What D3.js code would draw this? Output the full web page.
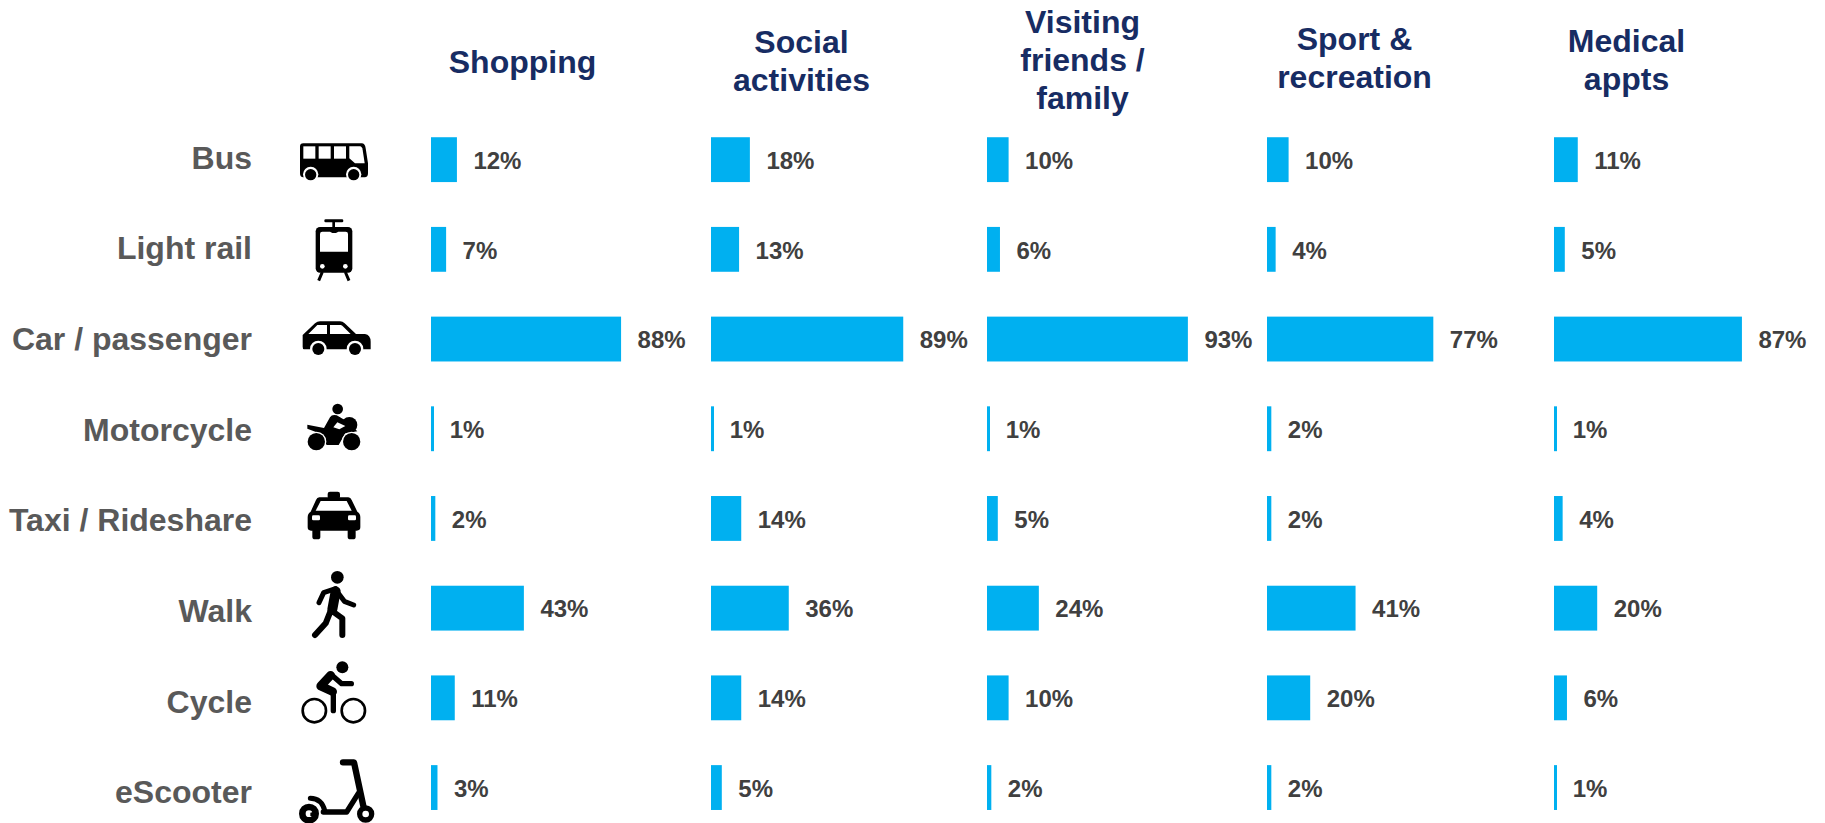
<!DOCTYPE html>
<html>
<head>
<meta charset="utf-8">
<script src="https://cdn.jsdelivr.net/npm/d3@7"></script>
<style>
  html, body { margin: 0; padding: 0; background: #fff; overflow: hidden; }
  text { font-family: "Liberation Sans", Arial, sans-serif; font-weight: bold; }
</style>
</head>
<body>
<div id="chart"></div>
<script>
var modes = ["Bus", "Light rail", "Car / passenger", "Motorcycle", "Taxi / Rideshare", "Walk", "Cycle", "eScooter"];
var purposes = ["Shopping", "Social activities", "Visiting friends / family", "Sport & recreation", "Medical appts"];

var shopping = [12, 7, 88, 1, 2, 43, 11, 3];
var social = [18, 13, 89, 1, 14, 36, 14, 5];
var visiting = [10, 6, 93, 1, 5, 24, 10, 2];
var sport = [10, 4, 77, 2, 2, 41, 20, 2];
var medical = [11, 5, 87, 1, 4, 20, 6, 1];
var seriesValues = [shopping, social, visiting, sport, medical];

var headerLines = [["Shopping"], ["Social", "activities"], ["Visiting", "friends /", "family"], ["Sport &", "recreation"], ["Medical", "appts"]];

var width = 1825, height = 823;
var barColor = "#00b0f0", headColor = "#172c63", rowColor = "#595959", valColor = "#404040";

var colStart = [431, 711, 987, 1267, 1554];
var headCenter = [522.5, 801.5, 1082.5, 1354.5, 1626.5];
var headFirstBase = [73, 53, 32.5, 50, 52];

var svg = d3.select("#chart").append("svg")
    .attr("width", width)
    .attr("height", height)
    .style("display", "block");

// bars sit on a 89.7px step, row labels drift a bit further apart
var y = d3.scaleBand().domain(modes).range([114.8, 832.4]).paddingInner(0.5).paddingOuter(0.25);
var labelY = d3.scalePoint().domain(modes).range([168.8, 803.4]);
var x = d3.scaleLinear().domain([0, 100]).range([0, 216]);

// row labels
svg.append("g").selectAll("text")
    .data(modes)
    .enter().append("text")
    .attr("x", 252)
    .attr("y", function(d) { return labelY(d); })
    .attr("text-anchor", "end")
    .attr("font-size", 32)
    .attr("fill", rowColor)
    .text(function(d) { return d; });

// headers
purposes.forEach(function(p, i) {
    var t = svg.append("text")
        .attr("class", "head")
        .attr("text-anchor", "middle")
        .attr("font-size", 32)
        .attr("fill", headColor);
    t.selectAll("tspan")
        .data(headerLines[i])
        .enter().append("tspan")
        .attr("x", headCenter[i])
        .attr("y", function(d, k) { return headFirstBase[i] + k * 38.4; })
        .text(function(d) { return d; });
});

// bars + values per column
seriesValues.forEach(function(values, c) {
    var col = svg.append("g").attr("transform", "translate(" + colStart[c] + ",0)");

    col.selectAll("rect")
        .data(values)
        .enter().append("rect")
        .attr("x", 0)
        .attr("y", function(d, i) { return y(modes[i]); })
        .attr("width", function(d) { return Math.max(x(d), 3); })
        .attr("height", y.bandwidth())
        .attr("fill", barColor);

    col.selectAll("text")
        .data(values)
        .enter().append("text")
        .attr("x", function(d) { return x(d) + 16.5; })
        .attr("y", function(d, i) { return y(modes[i]) + y.bandwidth() / 2 + 9.3; })
        .attr("font-size", 24)
        .attr("fill", valColor)
        .text(function(d) { return d + "%"; });
});

// pictograms, drawn in 3x crop coordinates
var icons = [
  { ox: 280, oy: 120, svg:
    '<path d="M70 70H245Q255 70 257 85L264 130V160Q264 172 254 172H70Q60 172 60 160V80Q60 70 70 70Z"/>' +
    '<g fill="#fff"><rect x="70" y="79" width="36" height="37"/><rect x="116" y="79" width="36" height="37"/><rect x="162" y="79" width="36" height="37"/>' +
    '<path d="M208 79H240Q246 79 248 90L254 130H225L208 115Z"/><circle cx="92" cy="163" r="23"/><circle cx="221" cy="163" r="23"/></g>' +
    '<circle cx="92" cy="164" r="17"/><circle cx="221" cy="164" r="17"/>' },
  { ox: 280, oy: 120, svg:
    '<rect x="133" y="298" width="57" height="9" rx="4"/><rect x="157" y="304" width="8" height="20"/>' +
    '<rect x="107" y="321" width="110" height="137" rx="13"/>' +
    '<path fill="#fff" d="M120 342Q120 335 127 335H150L157 339H168L175 335H197Q204 335 204 342V395H120Z"/>' +
    '<circle fill="#fff" cx="127" cy="439" r="7"/><circle fill="#fff" cx="196" cy="439" r="7"/>' +
    '<path stroke="#000" stroke-width="9" d="M127 456L116 482M196 456L207 482"/>' },
  { ox: 280, oy: 120, svg:
    '<path d="M68 645L105 610Q112 604 120 604H180Q188 604 194 610L228 642H255Q272 645 272 665V688H72Q68 688 68 680Z"/>' +
    '<path fill="#fff" d="M85 642L112 615H141V642ZM150 615H182Q186 615 190 620L212 642H150Z"/>' +
    '<circle fill="#fff" cx="115" cy="687" r="25"/><circle fill="#fff" cx="225" cy="687" r="25"/>' +
    '<circle cx="115" cy="687" r="18"/><circle cx="225" cy="687" r="18"/>' },
  { ox: 280, oy: 390, svg:
    '<circle cx="173" cy="57" r="16"/><circle cx="208" cy="105" r="24"/>' +
    '<path d="M82 104L132 114L150 82Q156 72 170 76L198 92L232 124L196 130L176 165H140L118 130L82 116Z"/>' +
    '<path fill="#fff" d="M160 112L172 97L196 108L178 118Z"/>' +
    '<circle fill="#fff" cx="109" cy="155" r="30"/><circle fill="#fff" cx="215" cy="155" r="30"/>' +
    '<circle cx="109" cy="155" r="26"/><circle cx="215" cy="155" r="26"/>' },
  { ox: 280, oy: 390, svg:
    '<rect x="143" y="305" width="37" height="22" rx="7"/>' +
    '<path d="M118 322H205Q212 322 215 330L232 365Q241 370 241 382V412Q241 422 230 422H93Q83 422 83 412V382Q83 370 92 365L108 330Q111 322 118 322Z"/>' +
    '<path fill="#fff" d="M122 333H200L215 362H107Z"/>' +
    '<rect fill="#fff" x="96" y="376" width="24" height="15" rx="4"/><rect fill="#fff" x="204" y="376" width="24" height="15" rx="4"/>' +
    '<rect x="97" y="415" width="24" height="33" rx="8"/><rect x="203" y="415" width="24" height="33" rx="8"/>' },
  { ox: 295, oy: 560, svg:
    '<circle cx="127" cy="52" r="19"/>' +
    '<path fill="none" stroke="#000" stroke-linecap="round" stroke-linejoin="round" stroke-width="15" d="M122 86L86 98L72 128M130 100L148 124L176 135"/>' +
    '<path fill="none" stroke="#000" stroke-linecap="round" stroke-width="30" d="M122 94L112 148"/>' +
    '<path fill="none" stroke="#000" stroke-linecap="round" stroke-linejoin="round" stroke-width="18" d="M106 155L92 190L60 225M114 155L142 175V225"/>' },
  { ox: 280, oy: 640, svg:
    '<circle cx="187" cy="82" r="18"/>' +
    '<g fill="none" stroke="#000"><circle cx="103" cy="212" r="35" stroke-width="8"/><circle cx="220" cy="212" r="35" stroke-width="8"/>' +
    '<path stroke-width="26" stroke-linejoin="round" stroke-linecap="round" d="M152 106L122 138L158 155"/>' +
    '<path stroke-width="16" stroke-linejoin="round" stroke-linecap="round" d="M160 155V212M155 105L185 131H214"/></g>' },
  { ox: 295, oy: 750, svg:
    '<g fill="none" stroke="#000" stroke-linecap="round" stroke-linejoin="round">' +
    '<path stroke-width="19" d="M144 37H177L205 168"/>' +
    '<path stroke-width="16" d="M85 186H155L190 130"/>' +
    '<path stroke-width="15" d="M46 145Q80 145 90 184"/>' +
    '<circle cx="212" cy="192" r="18" stroke-width="16"/><circle cx="42" cy="191" r="20" stroke-width="20"/></g>' +
    '<path fill="#000" d="M46 188L62 184V198H46Z"/>' }
];

svg.append("g").selectAll("g")
    .data(icons)
    .enter().append("g")
    .attr("transform", function(d) { return "translate(" + d.ox + "," + d.oy + ") scale(" + (1 / 3) + ")"; })
    .html(function(d) { return d.svg; });
</script>
</body>
</html>
